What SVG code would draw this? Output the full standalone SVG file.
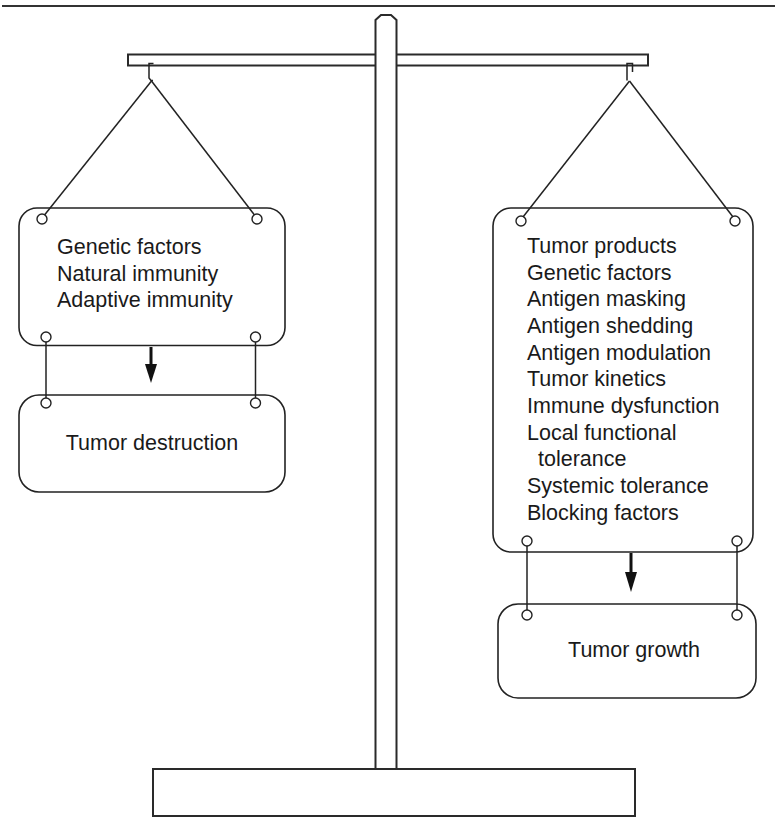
<svg xmlns="http://www.w3.org/2000/svg" width="775" height="818" viewBox="0 0 775 818">
<defs>
<style>
.ln{fill:none;stroke:#222;stroke-width:1.5}
.bx{fill:#fff;stroke:#222;stroke-width:1.6}
.st{fill:#fff;stroke:#2a2a2a;stroke-width:2}
.ring{fill:none;stroke:#222;stroke-width:1.4}
.tx{font-family:"Liberation Sans",Arial,sans-serif;font-size:21.5px;fill:#1a1a1a}
.ar{stroke:#111;stroke-width:3;fill:none}
.ah{fill:#111;stroke:none}
</style>
</defs>
<rect x="0" y="0" width="775" height="818" fill="#fff"/>
<line x1="2" y1="6" x2="775" y2="6" stroke="#333" stroke-width="2.2"/>

<g id="stand">
<rect class="st" x="128" y="54.5" width="520" height="11"/>
<path class="st" d="M375.5,769 L375.5,20 L381,15 L391,15 L396.5,20 L396.5,769"/>
<rect class="st" x="153" y="769" width="482" height="47"/>
<path class="ln" d="M153.5,63.5 L149,63.5 L149,78 L151,80.5 L153,80.5"/>
<path class="ln" d="M627,80.5 L627,63.5 L632.5,63.5 L632.5,72"/>
</g>

<g id="connectors">
<line class="ln" x1="151.5" y1="81" x2="44.5" y2="215"/>
<line class="ln" x1="151.5" y1="81" x2="254.5" y2="215"/>
<line class="ln" x1="629.5" y1="81" x2="523" y2="217"/>
<line class="ln" x1="629.5" y1="81" x2="733" y2="217"/>
<line class="ln" x1="46" y1="342" x2="46" y2="398"/>
<line class="ln" x1="255.5" y1="342" x2="255.5" y2="398"/>
<line class="ln" x1="527" y1="546" x2="527" y2="610"/>
<line class="ln" x1="737" y1="546" x2="737" y2="610"/>
<line class="ar" x1="151" y1="347" x2="151" y2="368"/>
<path class="ah" d="M145,364 L157,364 L151,383 Z"/>
<line class="ar" x1="631" y1="553" x2="631" y2="576"/>
<path class="ah" d="M625,572 L637,572 L631,592 Z"/>
</g>

<g id="left-factors">
<rect class="bx" x="19" y="208" width="266" height="137.5" rx="18" ry="18" fill-opacity="0"/>
<circle class="ring" cx="42" cy="219" r="5"/>
<circle class="ring" cx="257" cy="219" r="5"/>
<circle class="ring" cx="46" cy="337" r="5"/>
<circle class="ring" cx="255.5" cy="337" r="5"/>
<text class="tx" x="57" y="254">Genetic factors</text>
<text class="tx" x="57" y="281">Natural immunity</text>
<text class="tx" x="57" y="307">Adaptive immunity</text>
</g>

<g id="tumor-destruction">
<rect class="bx" x="19" y="395" width="266" height="97" rx="20" ry="20" fill-opacity="0"/>
<circle class="ring" cx="46" cy="403" r="5"/>
<circle class="ring" cx="255.5" cy="403" r="5"/>
<text class="tx" x="152" y="450" text-anchor="middle">Tumor destruction</text>
</g>

<g id="right-factors">
<rect class="bx" x="493" y="208" width="260" height="344" rx="18" ry="18" fill-opacity="0"/>
<circle class="ring" cx="521" cy="221" r="5"/>
<circle class="ring" cx="735" cy="221" r="5"/>
<circle class="ring" cx="527" cy="541" r="5"/>
<circle class="ring" cx="737" cy="541" r="5"/>
<text class="tx" x="527" y="253">Tumor products</text>
<text class="tx" x="527" y="280">Genetic factors</text>
<text class="tx" x="527" y="306">Antigen masking</text>
<text class="tx" x="527" y="333">Antigen shedding</text>
<text class="tx" x="527" y="360">Antigen modulation</text>
<text class="tx" x="527" y="386">Tumor kinetics</text>
<text class="tx" x="527" y="413">Immune dysfunction</text>
<text class="tx" x="527" y="440">Local functional</text>
<text class="tx" x="538" y="466">tolerance</text>
<text class="tx" x="527" y="493">Systemic tolerance</text>
<text class="tx" x="527" y="520">Blocking factors</text>
</g>

<g id="tumor-growth">
<rect class="bx" x="498" y="604" width="258" height="94" rx="20" ry="20" fill-opacity="0"/>
<circle class="ring" cx="527" cy="615" r="5"/>
<circle class="ring" cx="737" cy="615" r="5"/>
<text class="tx" x="634" y="657" text-anchor="middle">Tumor growth</text>
</g>
</svg>
